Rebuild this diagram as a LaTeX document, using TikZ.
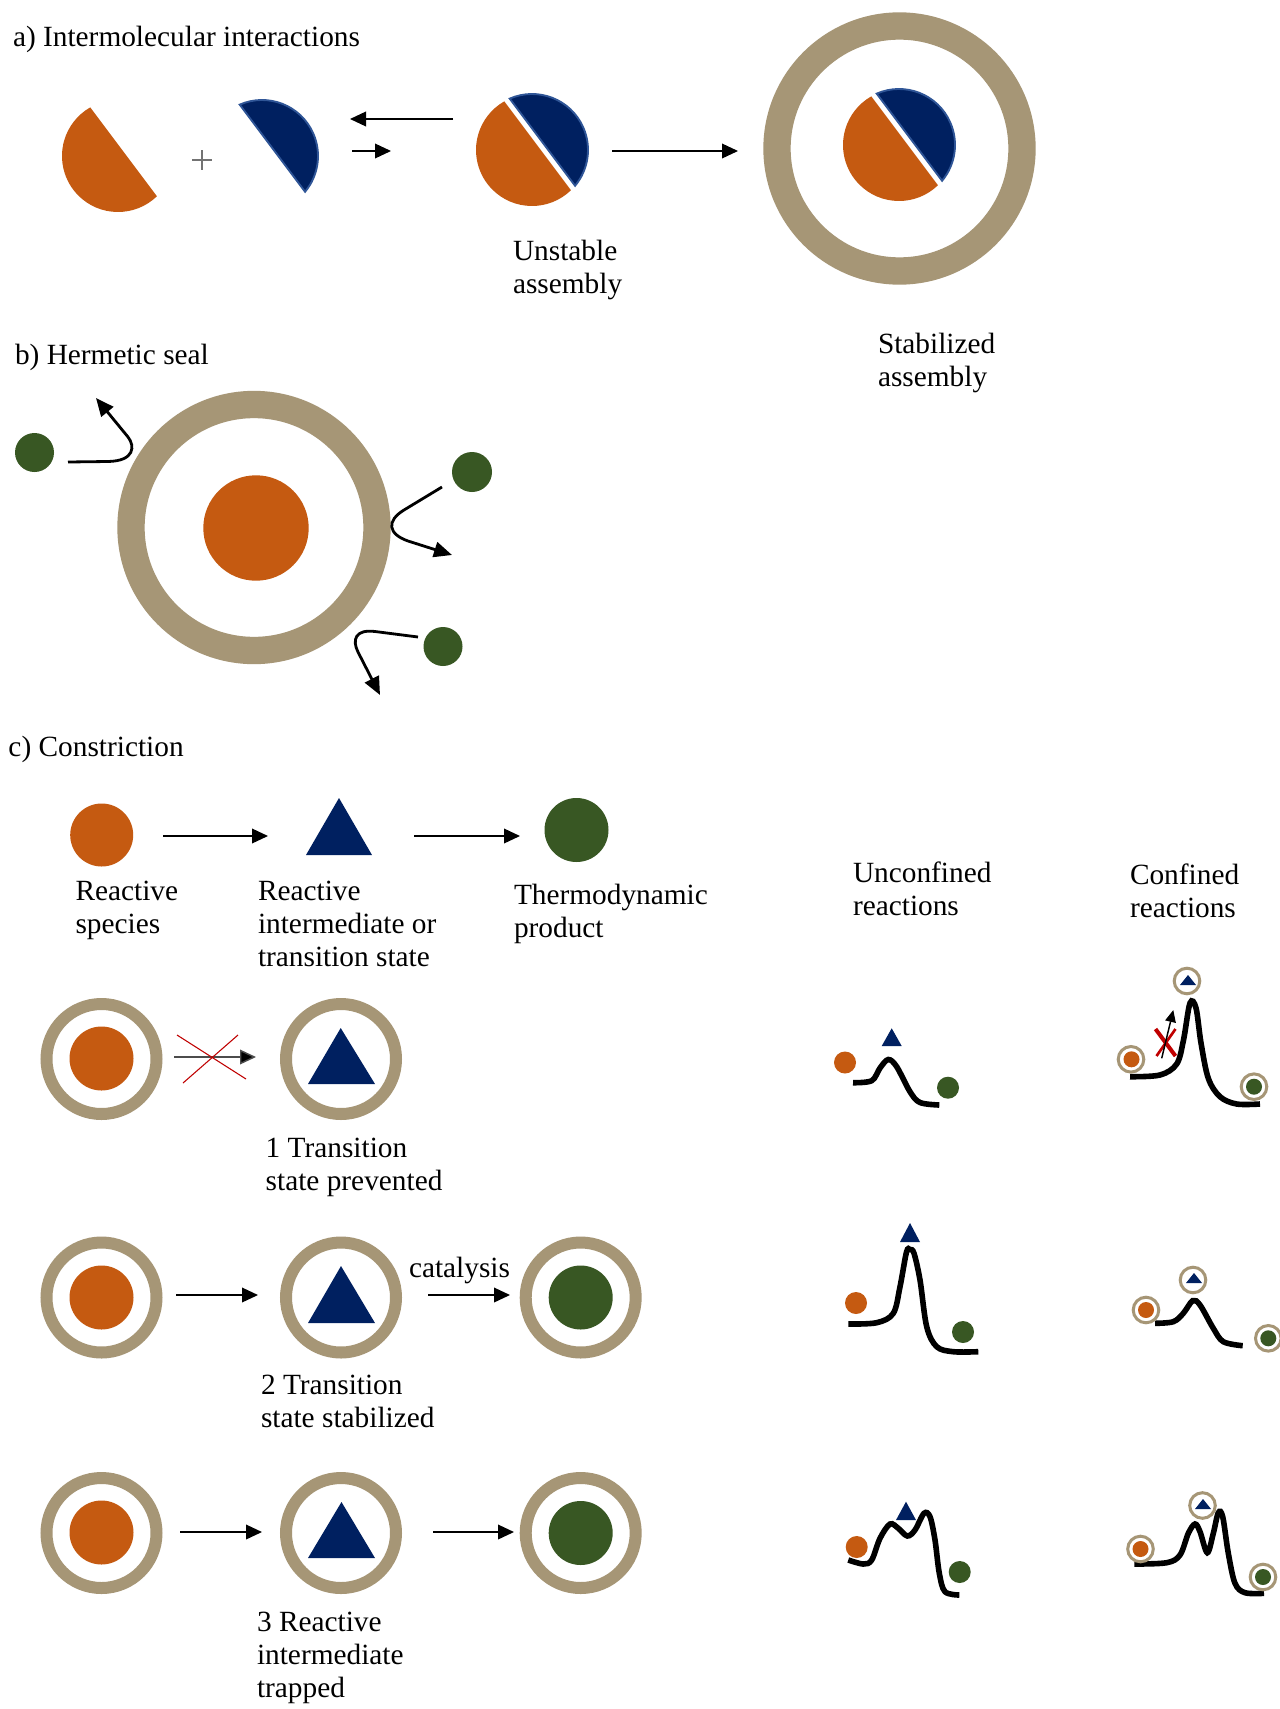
\documentclass[tikz,border=0pt]{standalone}
\usepackage{fontspec}
\setmainfont{Liberation Serif}
\usetikzlibrary{arrows.meta}
\definecolor{orangec}{HTML}{C55A11}
\definecolor{bluec}{HTML}{002060}
\definecolor{bluerim}{HTML}{2F5597}
\definecolor{greenc}{HTML}{385723}
\definecolor{tanc}{HTML}{A69676}
\definecolor{redc}{HTML}{C00000}
\newcommand\twol[2]{\vtop{\hbox{#1}\hbox{#2}}}
\newcommand\threel[3]{\vtop{\hbox{#1}\hbox{#2}\hbox{#3}}}
\newcommand\orpiece[1]{\fill[orangec] (#1) ++(45.95:56) arc[start angle=45.95,end angle=240.31,radius=56] -- cycle;}
\newcommand\blpiece[1]{\filldraw[fill=bluec,draw=bluerim,line width=1.4pt] (#1) ++(-113.45:56) arc[start angle=-113.45,end angle=39.71,radius=56] -- cycle;}
\begin{document}
\begin{tikzpicture}[x=0.75pt,y=-0.75pt,
  txt/.style={anchor=base west,inner sep=0pt,outer sep=0pt,font=\fontsize{22pt}{24.75pt}\selectfont},
  arr/.style={line width=1.1pt,-{Triangle[length=12pt,width=11pt]}},
  grayarr/.style={line width=1.1pt,draw=black!70,-{Triangle[length=12pt,width=11pt,fill=black]}},
  barr/.style={line width=2.1pt,-{Triangle[length=13.5pt,width=11.5pt]}},
  bigring/.style={draw=tanc,line width=20.5pt},
  ringc/.style={draw=tanc,line width=9pt},
  minring/.style={draw=tanc,line width=2.25pt},
  ecurve/.style={line width=4.2pt,smooth,tension=0.55}]
\fill[white] (0,0) rectangle (1280,1709);
\useasboundingbox (0,0) rectangle (1280,1709);

% ---------- a) ----------
\node[txt] (ta) at (13,47) {a) Intermolecular interactions};
\orpiece{118,156}
\blpiece{262,156}
\draw[black!55,line width=0.8pt] (192,160) -- (212,160) (202,150) -- (202,170);
\coordinate (a1s) at (453,119); \coordinate (a1e) at (350,119);
\coordinate (a2s) at (352,151); \coordinate (a2e) at (391,151);
\coordinate (a3s) at (612,151); \coordinate (a3e) at (738,151);
\draw[arr] (a1s) -- (a1e);
\draw[arr] (a2s) -- (a2e);
\orpiece{532,150}
\blpiece{532,150}
\draw[arr] (a3s) -- (a3e);
\draw[bigring] (899.5,148.5) circle[radius=122.5];
\orpiece{899,145}
\blpiece{899,145}
\node[txt] (tunst) at (513,260) {\twol{Unstable}{assembly}};
\node[txt] (tstab) at (878,353) {\twol{Stabilized}{assembly}};

% ---------- b) ----------
\node[txt] (tb) at (15,364) {b) Hermetic seal};
\draw[bigring] (254,527.5) circle[radius=123];
\fill[orangec] (256,528) circle[radius=52.7];
\fill[greenc] (34.5,452.5) circle[radius=19.5];
\fill[greenc] (472,472) circle[radius=20];
\fill[greenc] (443,646.5) circle[radius=19.5];
\coordinate (b1s) at (68,462); \coordinate (b1e) at (96,398);
\coordinate (b2s) at (442,487); \coordinate (b2e) at (452,555);
\coordinate (b3s) at (418,637); \coordinate (b3e) at (380,695);
\draw[barr] (b1s) -- (108,461.5) .. controls (135,461) and (135,446) .. (128,437) -- (b1e);
\draw[barr] (b2s) -- (404,510) .. controls (386,521) and (388,534) .. (408,541) -- (b2e);
\draw[barr] (b3s) -- (375,631.5) .. controls (355,629) and (352,640) .. (358,652) -- (b3e);

% ---------- c) ----------
\node[txt] (tc) at (8.5,756) {c) Constriction};
\fill[orangec] (101.7,835) circle[radius=31.5];
\fill[bluec] (339,798) -- (306,855) -- (372,855) -- cycle;
\fill[greenc] (576.5,830) circle[radius=32];
\coordinate (c1s) at (163,836); \coordinate (c1e) at (268,836);
\coordinate (c2s) at (414,836); \coordinate (c2e) at (520,836);
\draw[arr] (c1s) -- (c1e);
\draw[arr] (c2s) -- (c2e);
\node[txt] (trs) at (75.5,900) {\twol{Reactive}{species}};
\node[txt] (tri) at (258,900) {\threel{Reactive}{intermediate or}{transition state}};
\node[txt] (ttp) at (514,904) {\twol{Thermodynamic}{product}};
\node[txt] (tunc) at (853,882) {\twol{Unconfined}{reactions}};
\node[txt] (tcon) at (1130,884) {\twol{Confined}{reactions}};

% row 1
\draw[ringc] (101.5,1059) circle[radius=55];
\fill[orangec] (101.5,1058.5) circle[radius=32];
\draw[ringc] (341,1059) circle[radius=55];
\fill[bluec] (340.7,1028) -- (308,1084) -- (375,1084) -- cycle;
\coordinate (r1s) at (174,1057); \coordinate (r1e) at (256,1057);
\draw[grayarr] (r1s) -- (r1e);
\draw[redc,line width=0.8pt] (177,1035) -- (246,1079) (183,1083) -- (238,1035);
\node[txt] (t1) at (265.7,1157) {\twol{1 Transition}{state prevented}};

% row 2
\draw[ringc] (101.5,1297.5) circle[radius=55];
\fill[orangec] (101.5,1297.5) circle[radius=32];
\draw[ringc] (341,1297.5) circle[radius=55];
\fill[bluec] (341,1266) -- (308,1323) -- (375,1323) -- cycle;
\draw[ringc] (580.7,1297.5) circle[radius=55];
\fill[greenc] (580.7,1297.5) circle[radius=32];
\coordinate (r2as) at (176,1295); \coordinate (r2ae) at (258,1295);
\coordinate (r2bs) at (428,1295); \coordinate (r2be) at (510,1295);
\draw[arr] (r2as) -- (r2ae);
\draw[arr] (r2bs) -- (r2be);
\node[txt] (tcat) at (409,1277) {catalysis};
\node[txt] (t2) at (261,1394) {\twol{2 Transition}{state stabilized}};

% row 3
\draw[ringc] (101.5,1533) circle[radius=55];
\fill[orangec] (101.5,1532.5) circle[radius=32];
\draw[ringc] (341,1533) circle[radius=55];
\fill[bluec] (341.5,1502) -- (308,1558) -- (375,1558) -- cycle;
\draw[ringc] (580.7,1533) circle[radius=55];
\fill[greenc] (580.7,1533) circle[radius=32];
\coordinate (r3as) at (180,1532); \coordinate (r3ae) at (262,1532);
\coordinate (r3bs) at (433,1532); \coordinate (r3be) at (514,1532);
\draw[arr] (r3as) -- (r3ae);
\draw[arr] (r3bs) -- (r3be);
\node[txt] (t3) at (257,1631) {\threel{3 Reactive}{intermediate}{trapped}};

% ---------- energy profiles ----------
% row 1 unconfined
\draw[ecurve] plot coordinates {(853,1082.7) (871.7,1080.7) (880,1068) (888.3,1059.5) (896.7,1066.7) (910,1091.7) (920,1102.5) (939.3,1105)};
\fill[orangec] (845,1062.5) circle[radius=11];
\fill[greenc] (948,1087.7) circle[radius=11];
\fill[bluec] (891.7,1028.3) -- (881.7,1046) -- (901.7,1046) -- cycle;
% row 1 confined
\draw[ecurve] plot coordinates {(1130,1076.7) (1160,1075) (1176.7,1064) (1183.5,1040) (1190,1003) (1196,1008) (1201,1043) (1208.3,1078.3) (1220,1096.7) (1236.7,1104) (1260,1104)};
\draw[minring] (1131,1059.3) circle[radius=12.8]; \fill[orangec] (1131.5,1059.3) circle[radius=8];
\draw[minring] (1187,981) circle[radius=12.8]; \fill[bluec] (1188,975) -- (1180,985) -- (1196,985) -- cycle;
\draw[minring] (1254,1086.7) circle[radius=12.8]; \fill[greenc] (1254,1086.7) circle[radius=8];
\draw[redc,line width=3pt] (1155.5,1029) -- (1175.5,1056);
\draw[redc,line width=2pt] (1175.5,1029) -- (1156.5,1056);
\coordinate (x1s) at (1161.7,1058.3); \coordinate (x1e) at (1173.3,1010);
\draw[line width=1.1pt,-{Triangle[length=9pt,width=8pt]}] (x1s) -- (x1e);
% row 2 unconfined
\draw[ecurve] plot coordinates {(848.3,1324) (876.7,1322.7) (893.3,1313.3) (900,1286.7) (906.5,1252) (910,1249.5) (914,1253.3) (920,1280) (926.7,1326.7) (936.7,1346.7) (953.3,1351.7) (978.3,1351.7)};
\fill[bluec] (910,1223) -- (900,1242) -- (920,1242) -- cycle;
\fill[orangec] (856,1303) circle[radius=11];
\fill[greenc] (963,1332) circle[radius=11];
% row 2 confined
\draw[ecurve] plot coordinates {(1155,1323.3) (1173.3,1321.7) (1183.3,1313.3) (1192.7,1300.7) (1200,1305) (1213.3,1328.3) (1223.3,1341.7) (1242.7,1345.7)};
\draw[minring] (1146,1310) circle[radius=12.8]; \fill[orangec] (1146,1310) circle[radius=8];
\draw[minring] (1193,1280) circle[radius=12.8]; \fill[bluec] (1194,1273) -- (1186,1283) -- (1202,1283) -- cycle;
\draw[minring] (1268.3,1338.3) circle[radius=12.8]; \fill[greenc] (1268.3,1338.3) circle[radius=8];
% row 3 unconfined
\draw[ecurve] plot coordinates {(848.3,1560) (863.3,1564) (871.7,1560) (880,1538.3) (890,1524) (898.3,1528.3) (907.3,1536) (915,1530) (924,1513.3) (930,1516.7) (935,1540) (939.3,1573.3) (945,1591.7) (959.3,1595)};
\fill[bluec] (906,1501.7) -- (896,1520) -- (916,1520) -- cycle;
\fill[orangec] (856.7,1547) circle[radius=11];
\fill[greenc] (959.7,1572) circle[radius=11];
% row 3 confined
\draw[ecurve] plot coordinates {(1134.3,1564) (1166.7,1562.7) (1180,1555) (1188.3,1533.3) (1195,1524) (1200,1531.7) (1207.3,1552.7) (1213.3,1533.3) (1218.3,1512.7) (1222.7,1516.7) (1228.3,1553.3) (1235,1583.3) (1245,1592.7) (1264,1593.3)};
\draw[minring] (1140.5,1549) circle[radius=12.8]; \fill[orangec] (1140.5,1549) circle[radius=8];
\draw[minring] (1202.5,1505.5) circle[radius=12.8]; \fill[bluec] (1203,1499) -- (1195,1509) -- (1211,1509) -- cycle;
\draw[minring] (1263,1577) circle[radius=12.8]; \fill[greenc] (1263,1577) circle[radius=8];
\end{tikzpicture}
\end{document}
